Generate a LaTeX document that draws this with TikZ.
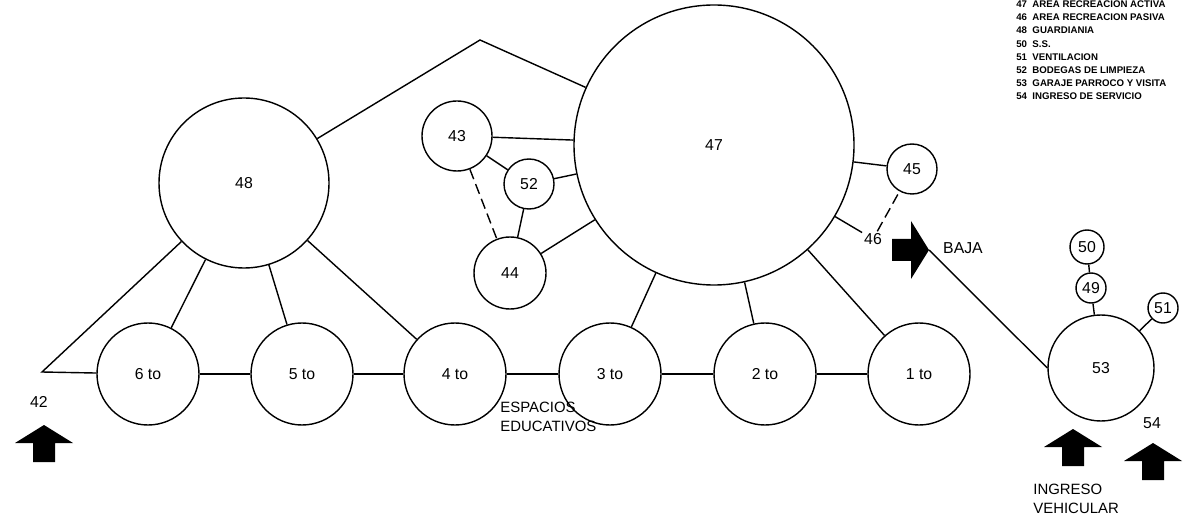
\documentclass[tikz,border=0pt]{standalone}
\usepackage{fontspec}
\setmainfont{Liberation Sans}
\usetikzlibrary{positioning}

\begin{document}
\begin{tikzpicture}[
      x=0.2mm,y=-0.2mm,
      esp/.style={circle,draw,line width=0.8pt,inner sep=0pt,minimum size=#1*0.4mm,font=\fontsize{9}{10}\selectfont},
      lin/.style={line width=0.8pt},
      dsh/.style={line width=0.8pt,dash pattern=on 6pt off 3pt},
      lbl/.style={font=\fontsize{9}{10}\selectfont,inner sep=1pt},
      txt/.style={font=\fontsize{8.5}{10.5}\selectfont,align=left,anchor=north west,inner sep=0pt},
      flecha/.pic={\fill (-11,0) -- (-11,-19) -- (-29,-19) -- (0,-37) -- (29,-19) -- (11,-19) -- (11,0) -- cycle;
                   \coordinate (-tip) at (0,-37);}]
    \useasboundingbox (0,0) rectangle (1187,515);
    \node[esp=85]  (c48) at (244,183) {48};
    \node[esp=140] (c47) at (714,145) {47};
    \node[esp=35]  (c43) at (457,136) {43};
    \node[esp=25]  (c52) at (529,184) {52};
    \node[esp=36]  (c44) at (510,273) {44};
    \node[esp=25]  (c45) at (912,169) {45};
    \node[esp=51]  (e6) at (148,374) {6 to};
    \node[esp=51]  (e5) at (302,374) {5 to};
    \node[esp=51]  (e4) at (455,374) {4 to};
    \node[esp=51]  (e3) at (610,374) {3 to};
    \node[esp=51]  (e2) at (765,374) {2 to};
    \node[esp=51]  (e1) at (919,374) {1 to};
    \node[esp=53]  (c53) at (1101,368) {53};
    \node[esp=15]  (c49) at (1091,288) {49};
    \node[esp=17]  (c50) at (1087,247) {50};
    \node[esp=15]  (c51) at (1163,308) {51};
    \coordinate (cima) at (480,40);
    \coordinate (p42) at (42,372);
    \node[lbl] (l42) at (39,402) {42};
    \node[lbl] (l46) at (873,239) {46};
    \node[lbl] (l54) at (1152,423) {54};
    \node[lbl] (baja) at (963,248) {BAJA};
    \node[txt] (espacios) at (500,402) {ESPACIOS\\EDUCATIVOS};
    \node[txt] (ingreso) at (1033,484) {INGRESO\\VEHICULAR};
    \node[anchor=north west,align=left,inner sep=0pt,font=\bfseries\fontsize{5.5}{7.5}\selectfont] (leyenda) at (1016,0.5)
      {47\ \ AREA RECREACION ACTIVA\\46\ \ AREA RECREACION PASIVA\\48\ \ GUARDIANIA\\50\ \ S.S.\\51\ \ VENTILACION\\52\ \ BODEGAS DE LIMPIEZA\\53\ \ GARAJE PARROCO Y VISITA\\54\ \ INGRESO DE SERVICIO};
    \pic at (44,462) {flecha};
    \pic at (1073,466) {flecha};
    \pic at (1153,480) {flecha};
    \pic[rotate=-90] (fb) at (892,250) {flecha};
    \draw[lin] (c48) -- (cima) -- (c47);
    \draw[lin] (e6) -- (p42) -- (c48);
    \draw[lin] (e6) -- (e5) -- (e4) -- (e3) -- (e2) -- (e1);
    \draw[lin] (c48) -- (e6);
    \draw[lin] (c48) -- (e5);
    \draw[lin] (c48) -- (e4);
    \draw[lin] (c47) -- (e3);
    \draw[lin] (c47) -- (e2);
    \draw[lin] (c47) -- (e1);
    \draw[lin] (c43) -- (c47);
    \draw[lin] (c43) -- (c52);
    \draw[lin] (c52) -- (c47);
    \draw[lin] (c52) -- (c44);
    \draw[lin] (c44) -- (c47);
    \draw[dsh] (c43) -- (c44);
    \draw[lin] (c47) -- (c45);
    \draw[lin] (c47) -- (l46);
    \draw[dsh] (l46) -- (c45);
    \draw[lin] (fb-tip) -- (c53.west);
    \draw[lin] (c50) -- (c49);
    \draw[lin] (c49) -- (c53);
    \draw[lin] (c51) -- (c53);
  \end{tikzpicture}
\end{document}
